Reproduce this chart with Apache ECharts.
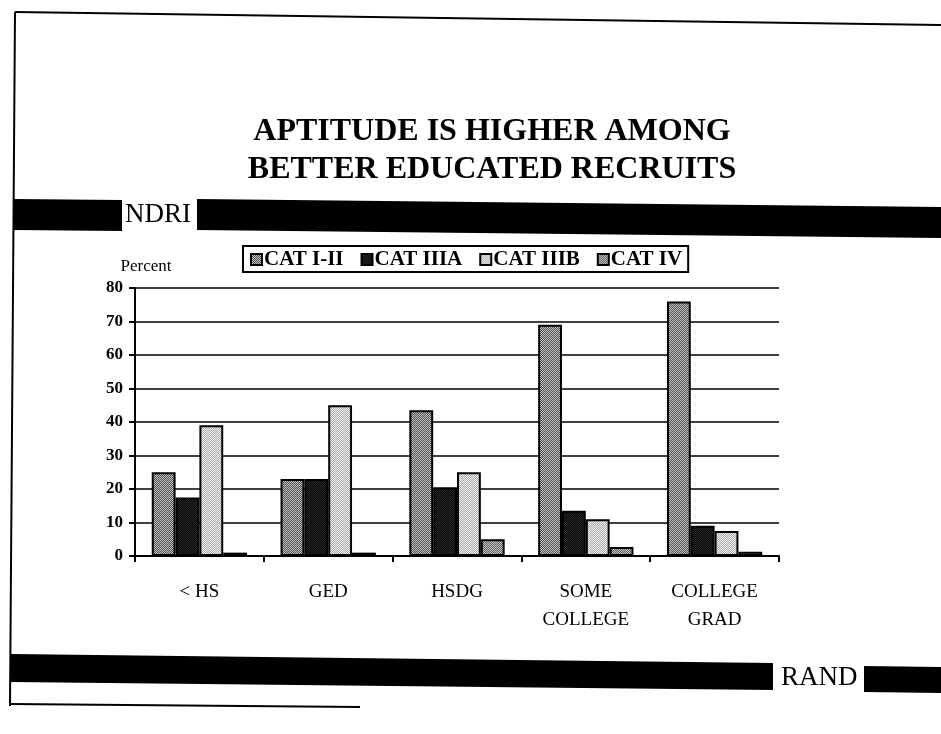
<!DOCTYPE html>
<html>
<head>
<meta charset="utf-8">
<script src="https://cdn.jsdelivr.net/npm/echarts@6/dist/echarts.min.js"></script>
<style>
html, body { margin: 0; padding: 0; background: #fff; }
#chart { width: 941px; height: 734px; }
</style>
</head>
<body>
<div id="chart"></div>
<script>
// values (percent of recruits)
const categories = ['< HS', 'GED', 'HSDG', 'SOME\nCOLLEGE', 'COLLEGE\nGRAD']
const seriesNames = ['CAT I-II', 'CAT IIIA', 'CAT IIIB', 'CAT IV']
const catI_II = [25, 23, 43.5, 69, 76]
const catIIIA = [17.5, 23, 20.5, 13.5, 9]
const catIIIB = [39, 45, 25, 11, 7.5]
const catIV = [1, 1, 5, 2.7, 1.3]
const yMin = 0
const yMax = 80
const yStep = 10

const FONT = 'Liberation Serif'

// little dither tiles so the bars look like the old print screens
function dither(a, b) {
    const c = document.createElement('canvas')
    c.width = 2
    c.height = 2
    const ctx = c.getContext('2d')
    ctx.fillStyle = a
    ctx.fillRect(0, 0, 2, 2)
    ctx.fillStyle = b
    ctx.fillRect(0, 0, 1, 1)
    ctx.fillRect(1, 1, 1, 1)
    return { image: c, repeat: 'repeat' }
}

const fills = [
    dither('#4e4e4e', '#c4c4c4'),
    dither('#050505', '#2a2a2a'),
    dither('#aaaaaa', '#f2f2f2'),
    dither('#5c5c5c', '#c8c8c8'),
]
const dataSets = [catI_II, catIIIA, catIIIB, catIV]

const chart = echarts.init(document.getElementById('chart'))

const option = {
    animation: false,
    backgroundColor: '#fff',
    title: {
        text: 'APTITUDE IS HIGHER AMONG\nBETTER EDUCATED RECRUITS',
        left: 487,
        top: 108,
        textAlign: 'center',
        textStyle: {
            fontFamily: FONT,
            fontSize: 32,
            fontWeight: 'bold',
            lineHeight: 38,
            color: '#000'
        }
    },
    legend: {
        data: seriesNames,
        left: 243,
        top: 246,
        padding: [3, 6, 2, 7],
        itemGap: 17,
        itemWidth: 11,
        itemHeight: 11,
        borderColor: '#000',
        borderWidth: 2,
        borderRadius: 0,
        icon: 'rect',
        textStyle: { fontFamily: FONT, fontSize: 21, fontWeight: 'bold', color: '#000', padding: [0, 0, 0, -3] }
    },
    grid: { left: 135, right: 162, top: 288, bottom: 178 },
    xAxis: {
        type: 'category',
        data: categories,
        axisLine: { lineStyle: { color: '#000', width: 2 } },
        axisTick: { show: true, length: 6, lineStyle: { color: '#000', width: 2 } },
        axisLabel: {
            color: '#000',
            fontFamily: FONT,
            fontSize: 19,
            lineHeight: 28,
            margin: 22,
            interval: 0
        }
    },
    yAxis: {
        type: 'value',
        min: yMin,
        max: yMax,
        interval: yStep,
        name: 'Percent',
        nameLocation: 'end',
        nameGap: 13,
        nameTextStyle: { fontFamily: FONT, fontSize: 17, color: '#000', padding: [0, 0, 0, 22] },
        axisLine: { show: true, lineStyle: { color: '#000', width: 2 } },
        axisTick: { show: true, length: 6, lineStyle: { color: '#000', width: 2 } },
        axisLabel: { color: '#000', fontFamily: FONT, fontSize: 17, fontWeight: 'bold', margin: 12 },
        splitLine: { show: true, lineStyle: { color: '#000', width: 1.5 } }
    },
    series: seriesNames.map((name, i) => ({
        name: name,
        type: 'bar',
        data: dataSets[i],
        barGap: '0%',
        barCategoryGap: '26%',
        itemStyle: { color: fills[i], borderColor: '#000', borderWidth: 2 }
    })),
    graphic: [
        // page frame (scan shows left, top and part of bottom edge, a bit tilted)
        { type: 'line', shape: { x1: 15, y1: 12, x2: 941, y2: 25 }, style: { stroke: '#000', lineWidth: 2 } },
        { type: 'line', shape: { x1: 15, y1: 12, x2: 10, y2: 706 }, style: { stroke: '#000', lineWidth: 2 } },
        { type: 'line', shape: { x1: 10, y1: 704, x2: 360, y2: 707 }, style: { stroke: '#000', lineWidth: 2 } },
        // NDRI band
        { type: 'polygon', shape: { points: [[14, 199], [122, 200], [122, 231], [14, 230]] }, style: { fill: '#000' } },
        { type: 'text', left: 125, top: 201, style: { text: 'NDRI', font: '27px "Liberation Serif"', fill: '#000' } },
        { type: 'polygon', shape: { points: [[197, 199], [941, 207], [941, 238], [197, 230]] }, style: { fill: '#000' } },
        // RAND band
        { type: 'polygon', shape: { points: [[11, 654], [773, 663], [773, 690], [11, 682]] }, style: { fill: '#000' } },
        { type: 'text', left: 781, top: 664, style: { text: 'RAND', font: '27px "Liberation Serif"', fill: '#000' } },
        { type: 'polygon', shape: { points: [[864, 666], [941, 667], [941, 693], [864, 692]] }, style: { fill: '#000' } }
    ]
}

chart.setOption(option)
</script>
</body>
</html>
